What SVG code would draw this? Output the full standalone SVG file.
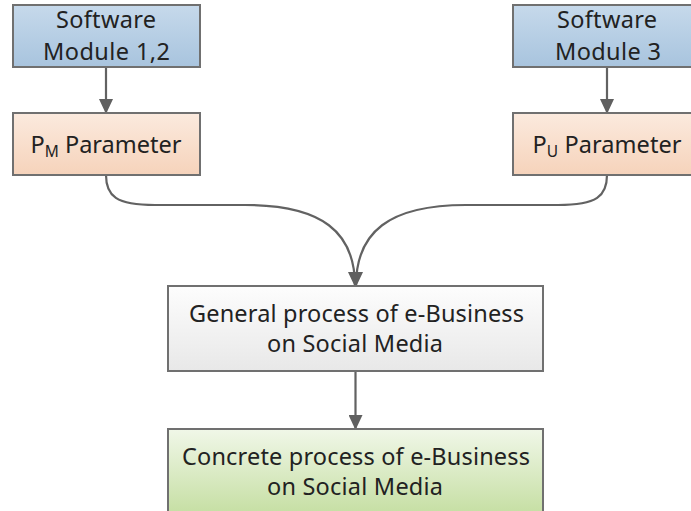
<svg xmlns="http://www.w3.org/2000/svg" width="691" height="511" viewBox="0 0 691 511">
<defs>
<linearGradient id="gBlue" x1="0" y1="0" x2="0" y2="1"><stop offset="0" stop-color="#c6d9eb"/><stop offset="1" stop-color="#a8c4de"/></linearGradient>
<linearGradient id="gPeach" x1="0" y1="0" x2="0" y2="1"><stop offset="0" stop-color="#fbeade"/><stop offset="1" stop-color="#f6d3bb"/></linearGradient>
<linearGradient id="gGrey" x1="0" y1="0" x2="0" y2="1"><stop offset="0" stop-color="#fdfdfd"/><stop offset="1" stop-color="#e8e8e8"/></linearGradient>
<linearGradient id="gGreen" x1="0" y1="0" x2="0" y2="1"><stop offset="0" stop-color="#f0f7e8"/><stop offset="1" stop-color="#c1dc9b"/></linearGradient>
<marker id="arr" viewBox="0 0 15 14" markerWidth="15" markerHeight="14" refX="14" refY="7" orient="auto" markerUnits="userSpaceOnUse"><path d="M0,0 L15,7 L0,14 z" fill="#606060"/></marker>
</defs>
<style>
.box{stroke:#707070;stroke-width:2}
.t{font-family:"Noto Sans","Open Sans",sans-serif;font-size:23.5px;fill:#222;text-anchor:middle}
.sub{font-size:15.5px}
.c{fill:none;stroke:#626262;stroke-width:2.2}
</style>
<g id="connectors">
<line class="c" x1="106" y1="67" x2="106" y2="113" marker-end="url(#arr)"/>
<line class="c" x1="607" y1="67" x2="607" y2="113" marker-end="url(#arr)"/>
<path class="c" d="M106,175 C106,196 116,205 155,205 L245,205 C322,205 355,232 355,286" marker-end="url(#arr)"/>
<path class="c" d="M607,175 C607,196 597,205 558,205 L466,205 C389,205 356,232 356,286" marker-end="url(#arr)"/>
<line class="c" x1="355.5" y1="371" x2="355.5" y2="429" marker-end="url(#arr)"/>
</g>
<g id="node-sw12">
<rect class="box" x="13" y="5" width="187" height="62" fill="url(#gBlue)"/>
<text class="t" x="106" y="28" textLength="100" lengthAdjust="spacing">Software</text>
<text class="t" x="106.5" y="60" textLength="127" lengthAdjust="spacing">Module 1,2</text>
</g>
<g id="node-sw3">
<rect class="box" x="513" y="5" width="187" height="62" fill="url(#gBlue)"/>
<text class="t" x="607" y="28" textLength="100" lengthAdjust="spacing">Software</text>
<text class="t" x="608" y="60" textLength="106" lengthAdjust="spacing">Module 3</text>
</g>
<g id="node-pm">
<rect class="box" x="13" y="113" width="187" height="62" fill="url(#gPeach)"/>
<text class="t" x="106" y="153" textLength="151" lengthAdjust="spacing">P<tspan class="sub" dy="4">M</tspan><tspan dy="-4"> Parameter</tspan></text>
</g>
<g id="node-pu">
<rect class="box" x="513" y="113" width="187" height="62" fill="url(#gPeach)"/>
<text class="t" x="607" y="153" textLength="149" lengthAdjust="spacing">P<tspan class="sub" dy="4">U</tspan><tspan dy="-4"> Parameter</tspan></text>
</g>
<g id="node-general">
<rect class="box" x="168" y="286" width="375" height="85" fill="url(#gGrey)"/>
<text class="t" x="356.5" y="322" textLength="335" lengthAdjust="spacing">General process of e-Business</text>
<text class="t" x="355" y="352" textLength="176" lengthAdjust="spacing">on Social Media</text>
</g>
<g id="node-concrete">
<rect class="box" x="168" y="429" width="375" height="95" fill="url(#gGreen)"/>
<text class="t" x="356" y="465" textLength="348" lengthAdjust="spacing">Concrete process of e-Business</text>
<text class="t" x="355" y="495" textLength="176" lengthAdjust="spacing">on Social Media</text>
</g>
</svg>
